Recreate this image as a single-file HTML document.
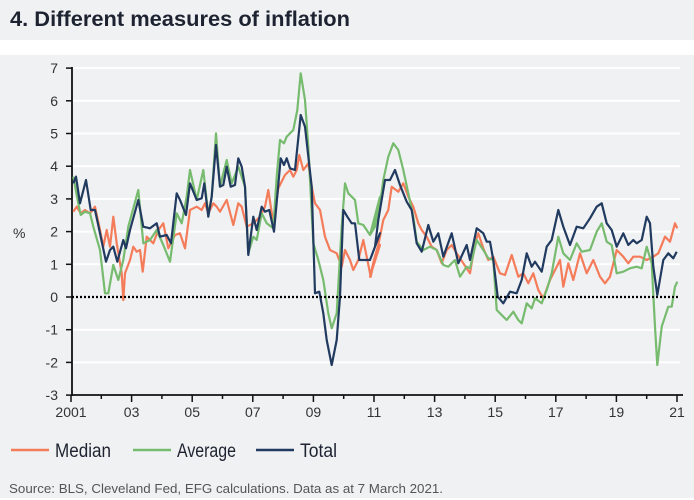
<!DOCTYPE html>
<html><head><meta charset="utf-8"><style>
body{margin:0;width:694px;height:500px;background:#fff;font-family:"Liberation Sans",sans-serif;overflow:hidden}
#t{position:absolute;left:0;top:0;width:694px;height:40px;background:#f0f1f3}
#p{position:absolute;left:0;top:55px;width:694px;height:443px;background:#f0f1f3}
svg{position:absolute;left:0;top:0}
</style></head><body>
<div id="t"></div>
<div id="p"></div>
<svg width="694" height="500" id="s" font-family="Liberation Sans, sans-serif"></svg>
<script>
var s=document.getElementById('s'),h='';
h+='<text x="10" y="26" font-size="21" font-weight="bold" fill="#1d2330" textLength="340" lengthAdjust="spacingAndGlyphs">4. Different measures of inflation</text>';
function y(v){return 297-32.7*v}
for(var v=-3;v<=7;v++){ if(v!=-3&&v!=0) h+='<line x1="72" x2="680" y1="'+y(v)+'" y2="'+y(v)+'" stroke="#fff" stroke-width="2"/>';
 h+='<line x1="66" x2="72" y1="'+y(v)+'" y2="'+y(v)+'" stroke="#111" stroke-width="1.5"/>';
 h+='<text x="58" y="'+(y(v)+5)+'" font-size="14" fill="#333" text-anchor="end">'+v+'</text>';}
h+='<line x1="72" x2="72" y1="67" y2="396" stroke="#111" stroke-width="1.8"/>';
h+='<line x1="71" x2="683" y1="395" y2="395" stroke="#111" stroke-width="1.8"/>';
for(var i=0;i<=20;i++){var x=71+i*30.3;h+='<line x1="'+x+'" x2="'+x+'" y1="395" y2="'+(i%2==0?402:399)+'" stroke="#111" stroke-width="1.5"/>';
 if(i%2==0){var l=i==0?'2001':String(i+1).padStart(2,'0');h+='<text x="'+x+'" y="417" font-size="14" fill="#333" text-anchor="middle">'+l+'</text>';}}
h+='<text x="13" y="238" font-size="14" fill="#333">%</text>';
function pl(a,ox,c){var p=[];for(var i=0;i<a.length;i+=2)p.push((ox+a[i]/3).toFixed(1)+','+(60+a[i+1]/3).toFixed(1));return p.join(' ');}
var S={
og:[[40,455,50,440,62,460,75,450,90,460,105,440,120,510,130,560,140,510,150,560,160,470,170,550,185,640,190,720,195,640,210,600,220,560,230,575,240,570,248,635,260,530,280,550,295,510,310,490,325,565,345,525,360,520,375,565,390,450,410,440,425,450,435,430,445,460,460,430,470,440,480,455,500,420,520,495,535,430,545,440,560,500,580,490,600,470,615,440,625,390,640,490,655,385,675,345,690,330,700,350,710,330,718,285,730,330,745,310,755,380,765,430,780,450,795,530,810,570,830,580,845,620,855,570,870,600,880,630,895,600,910,540,920,590,932,650,945,590,960,555],
[0,650,12,600,25,555,40,480,55,450,65,380,85,395,100,370,115,410,130,440,145,490,155,510,170,530,185,560,200,570,215,610,230,570,245,555,260,580,280,610,300,640,315,550,325,520,340,565,355,600,370,590,390,640,405,645,425,585,445,650,460,640,475,670,490,640,505,690,520,715,540,660,560,620,570,600,580,680,595,610,610,660,630,580,650,640,670,600,690,650,705,670,720,650,740,570,760,590,775,610,790,590,810,590,830,600,850,590,865,580,885,530,900,545,915,490,922,505]],
gr:[[40,350,55,430,62,465,75,455,90,460,100,500,120,570,135,700,145,700,160,615,175,660,190,600,205,500,235,390,250,550,270,540,290,510,310,555,330,605,350,460,365,490,380,410,390,330,410,420,430,330,445,465,455,410,468,220,480,380,490,340,500,300,515,370,535,320,555,380,565,580,580,530,590,540,605,460,620,490,640,505,650,350,660,240,672,250,680,230,700,210,712,150,722,40,735,120,745,260,760,550,775,600,790,660,805,760,815,805,830,760,845,500,855,370,865,400,875,410,885,420,895,490,910,495,930,525,945,500,960,410],
[0,525,12,495,25,470,40,360,55,290,70,250,85,270,100,330,115,400,130,470,140,545,160,570,180,560,200,570,220,615,235,620,255,600,270,650,290,620,300,625,320,540,340,570,355,595,370,600,380,750,400,770,410,780,430,755,445,780,455,790,470,730,485,745,495,715,515,730,530,690,545,640,565,530,580,580,600,600,620,550,635,575,660,570,680,515,695,490,710,545,725,555,740,640,760,635,780,625,800,620,815,625,830,560,845,610,855,800,862,915,875,800,895,740,905,740,915,680,922,665]],
nv:[[40,370,48,350,60,430,78,360,92,450,105,450,118,510,138,605,150,570,160,560,172,605,190,540,198,565,210,510,235,420,250,500,270,505,290,490,300,530,320,525,333,550,350,400,360,420,378,465,390,370,410,420,425,415,433,370,445,470,455,410,468,255,480,380,490,375,500,320,512,380,525,375,535,295,545,320,555,380,565,585,580,470,590,510,605,440,615,455,628,450,642,515,662,295,672,315,680,295,690,325,705,330,722,165,735,200,755,380,765,700,778,695,790,760,800,840,815,915,830,840,840,710,850,450,862,470,875,490,885,490,898,600,910,600,930,600,945,560,960,520],
[0,600,15,560,25,480,45,360,60,360,75,330,90,375,110,425,125,450,140,550,155,575,175,495,190,545,205,520,220,590,245,520,265,610,290,555,300,600,320,505,340,520,350,545,360,545,370,600,383,710,400,730,420,695,440,700,455,660,470,580,485,620,495,605,515,635,530,560,545,540,565,450,580,500,600,555,620,500,640,505,660,475,680,440,695,430,710,490,725,510,740,560,760,520,775,555,790,540,800,550,815,540,830,470,840,490,850,620,862,705,880,600,895,580,910,595,920,575]]};
var C={og:'#f47c5a',gr:'#77bb6f',nv:'#213a5f'};
['og','gr','nv'].forEach(function(k){h+='<polyline fill="none" stroke="'+C[k]+'" stroke-width="2.2" stroke-linejoin="round" points="'+pl(S[k][0],60,C[k])+' '+pl(S[k][1],370,C[k])+'"/>';});
h+='<line x1="72" x2="680" y1="297" y2="297" stroke="#000" stroke-width="2.2" stroke-dasharray="2,2"/>';
var L=[[11,'Median','og',56],[133,'Average','gr',59],[256,'Total','nv',37]];
L.forEach(function(e){h+='<line x1="'+e[0]+'" x2="'+(e[0]+38)+'" y1="450" y2="450" stroke="'+C[e[2]]+'" stroke-width="2.5"/><text x="'+(e[0]+44)+'" y="457" font-size="19" fill="#1d2330" textLength="'+e[3]+'" lengthAdjust="spacingAndGlyphs">'+e[1]+'</text>';});
h+='<text x="9" y="493" font-size="13" fill="#555" textLength="434" lengthAdjust="spacingAndGlyphs">Source: BLS, Cleveland Fed, EFG calculations. Data as at 7 March 2021.</text>';
s.innerHTML=h;
</script>
</body></html>
